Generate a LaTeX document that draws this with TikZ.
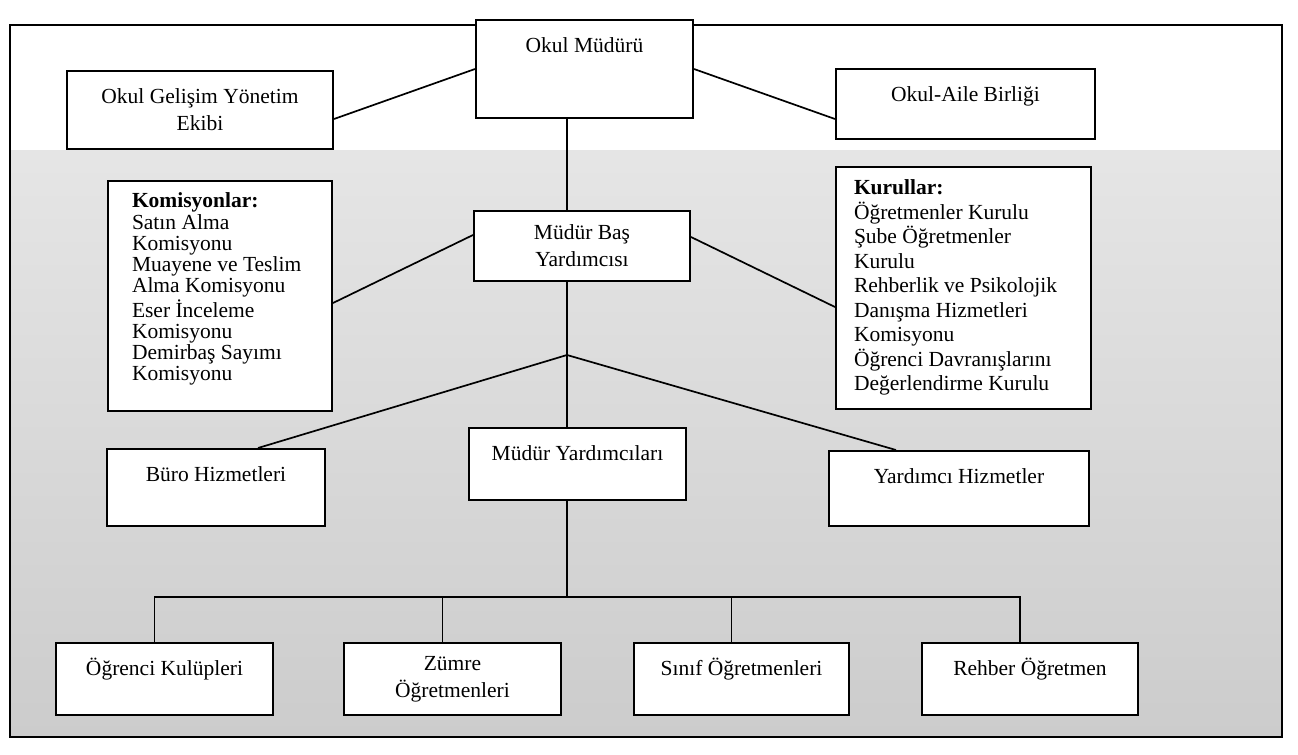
\documentclass[tikz,border=0pt]{standalone}
\usepackage{fontspec}
\setmainfont{Liberation Serif}
\tikzset{
  unitbox/.style={draw, fill=white, line width=1pt, anchor=north west,
    font=\fontsize{10.75}{13.5}\selectfont},
  oneline/.style={unitbox, inner ysep=0pt, text height=16pt, text depth=#1},
  twoline/.style={unitbox, align=center},
  link/.style={line width=0.85pt},
}
\newcommand{\liste}[3]{\parbox[t][#1][t]{#2}{\raggedright #3}}
\begin{document}
\begin{tikzpicture}[x=0.5pt,y=-0.5pt]
\useasboundingbox (0,0) rectangle (1298,755);
% scanned page: white top, grey lower part
\fill[white] (0,0) rectangle (1298,755);
\shade[top color=gray!20, bottom color=gray!40] (10,150) rectangle (1282,737);
\draw[line width=1.2pt] (10,25) rectangle (1282,737);

% top row
\node[oneline=32.5pt, minimum width=108.5pt, minimum height=49pt] (mudur) at (475,19) {Okul Müdürü};
\node[twoline, minimum width=133pt, minimum height=39pt] (gelisim) at (66,70) {Okul Gelişim Yönetim\\ Ekibi};
\node[oneline=18.5pt, minimum width=129.5pt, minimum height=35pt] (aile) at (835,68) {Okul-Aile Birliği};

% middle row
\node[unitbox, inner xsep=12pt, inner ysep=6pt, font=\fontsize{10.75}{10.6}\selectfont] (komisyon) at (107,180)
  {\liste{103pt}{88pt}{\textbf{Komisyonlar:}\\ Satın Alma\\ Komisyonu\\ Muayene ve Teslim\\ Alma Komisyonu\\ Eser İnceleme\\ Komisyonu\\ Demirbaş Sayımı\\ Komisyonu}};
\node[twoline, minimum width=108pt, minimum height=35pt] (basyard) at (473,210) {Müdür Baş\\ Yardımcısı};
\node[unitbox, inner xsep=9pt, inner ysep=6.5pt, font=\fontsize{10.75}{12.25}\selectfont] (kurul) at (835,166)
  {\liste{108pt}{109.5pt}{\textbf{Kurullar:}\\ Öğretmenler Kurulu\\ Şube Öğretmenler\\ Kurulu\\ Rehberlik ve Psikolojik\\ Danışma Hizmetleri\\ Komisyonu\\ Öğrenci Davranışlarını\\ Değerlendirme Kurulu}};

% lower row
\node[oneline=22pt, minimum width=109pt, minimum height=38.5pt] (buro) at (106,448) {Büro Hizmetleri};
\node[oneline=19.5pt, minimum width=108.5pt, minimum height=36pt] (yardimcilar) at (468,427) {Müdür Yardımcıları};
\node[oneline=21pt, minimum width=130pt, minimum height=37.5pt] (yardhiz) at (828,450) {Yardımcı Hizmetler};

% bottom row
\node[oneline=19.5pt, minimum width=108.5pt, minimum height=36pt] (kulup) at (55,642) {Öğrenci Kulüpleri};
\node[twoline, minimum width=108.5pt, minimum height=36pt] (zumre) at (343,642) {Zümre\\ Öğretmenleri};
\node[oneline=19.5pt, minimum width=107.5pt, minimum height=36pt] (sinif) at (633,642) {Sınıf Öğretmenleri};
\node[oneline=19.5pt, minimum width=108pt, minimum height=36pt] (rehber) at (921,642) {Rehber Öğretmen};

\coordinate (junction) at (567,355);
\coordinate (bus) at (567,597);

% connectors
\draw[link] ([yshift=-4.5pt]gelisim.east) -- (mudur.west);
\draw[link] (mudur.east) -- ([yshift=-7.5pt]aile.west);
\draw[link] (mudur.south -| junction) -- (basyard.north -| junction);
\draw[link] ([yshift=-3.5pt]komisyon.east) -- ([yshift=5.5pt]basyard.west);
\draw[link] ([yshift=4.5pt]basyard.east) -- ([yshift=-9.5pt]kurul.west);
\draw[link] (basyard.south -| junction) -- (junction) -- (yardimcilar.north -| junction);
\draw[link] (junction) -- ([xshift=21pt]buro.north);
\draw[link] (junction) -- ([xshift=-31.5pt]yardhiz.north);
\draw[link] (yardimcilar.south -| bus) -- (bus);
\foreach \n in {kulup,zumre,sinif,rehber}
  \draw[link] (bus) -| ([xshift=-5pt]\n.north);
\end{tikzpicture}
\end{document}
